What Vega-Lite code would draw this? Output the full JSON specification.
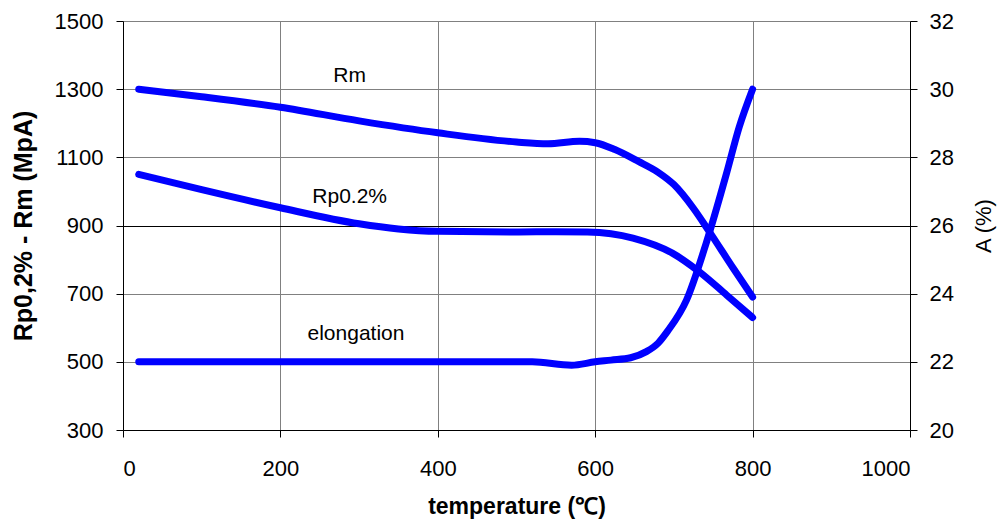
{
  "$schema": "https://vega.github.io/schema/vega-lite/v6.json",
  "width": 787,
  "height": 409,
  "autosize": {"type": "none"},
  "padding": {"left": 123, "top": 21, "right": 88, "bottom": 95},
  "background": "white",
  "config": {
    "view": {"stroke": null},
    "font": "Liberation Sans",
    "axis": {
      "labelFont": "Liberation Sans",
      "titleFont": "Liberation Sans",
      "labelFontSize": 22,
      "titleFontSize": 22,
      "labelColor": "black",
      "titleColor": "black",
      "domainColor": "black",
      "tickColor": "black",
      "tickSize": 7,
      "gridColor": "#808080",
      "gridOpacity": 1,
      "gridWidth": 1,
      "format": "d"
    }
  },
  "datasets": {
    "curves": [
      {"T": 20, "series": "Rm", "v": 1300},
      {"T": 100, "series": "Rm", "v": 1278},
      {"T": 200, "series": "Rm", "v": 1247},
      {"T": 300, "series": "Rm", "v": 1207},
      {"T": 400, "series": "Rm", "v": 1172},
      {"T": 500, "series": "Rm", "v": 1145},
      {"T": 540, "series": "Rm", "v": 1140},
      {"T": 580, "series": "Rm", "v": 1147},
      {"T": 600, "series": "Rm", "v": 1143},
      {"T": 625, "series": "Rm", "v": 1123},
      {"T": 655, "series": "Rm", "v": 1088},
      {"T": 680, "series": "Rm", "v": 1056},
      {"T": 700, "series": "Rm", "v": 1020},
      {"T": 725, "series": "Rm", "v": 950},
      {"T": 745, "series": "Rm", "v": 882},
      {"T": 775, "series": "Rm", "v": 776},
      {"T": 800, "series": "Rm", "v": 690},
      {"T": 20, "series": "Rp0.2%", "v": 1050},
      {"T": 100, "series": "Rp0.2%", "v": 1005},
      {"T": 200, "series": "Rp0.2%", "v": 952},
      {"T": 300, "series": "Rp0.2%", "v": 905},
      {"T": 350, "series": "Rp0.2%", "v": 890},
      {"T": 400, "series": "Rp0.2%", "v": 883},
      {"T": 500, "series": "Rp0.2%", "v": 881},
      {"T": 550, "series": "Rp0.2%", "v": 882},
      {"T": 590, "series": "Rp0.2%", "v": 881},
      {"T": 648, "series": "Rp0.2%", "v": 863},
      {"T": 698, "series": "Rp0.2%", "v": 819},
      {"T": 733, "series": "Rp0.2%", "v": 763},
      {"T": 767, "series": "Rp0.2%", "v": 696},
      {"T": 800, "series": "Rp0.2%", "v": 630}
    ],
    "elong": [
      {"T": 20, "A": 22},
      {"T": 200, "A": 22},
      {"T": 400, "A": 22},
      {"T": 520, "A": 22},
      {"T": 570, "A": 21.9},
      {"T": 600, "A": 22.0},
      {"T": 620, "A": 22.05},
      {"T": 645, "A": 22.12},
      {"T": 665, "A": 22.3},
      {"T": 680, "A": 22.55},
      {"T": 692, "A": 22.9},
      {"T": 716, "A": 23.81},
      {"T": 741, "A": 25.48},
      {"T": 767, "A": 27.54},
      {"T": 783, "A": 28.89},
      {"T": 800, "A": 30}
    ],
    "labels": [
      {"T": 288, "v": 1338, "text": "Rm"},
      {"T": 288, "v": 983, "text": "Rp0.2%"},
      {"T": 296, "v": 581, "text": "elongation"}
    ]
  },
  "layer": [
    {
      "layer": [
        {
          "data": {"name": "curves"},
          "mark": {"type": "line", "color": "#0000FF", "strokeWidth": 7, "strokeCap": "round", "strokeJoin": "round", "interpolate": "monotone"},
          "encoding": {
            "x": {"field": "T", "type": "quantitative", "scale": {"domain": [0, 1000], "nice": false},
              "axis": {"values": [0, 200, 400, 600, 800, 1000], "title": "temperature (℃)", "titleFontWeight": "bold", "titleFontSize": 23, "labelPadding": 21, "titlePadding": 16, "grid": true}},
            "y": {"field": "v", "type": "quantitative", "scale": {"domain": [300, 1500], "nice": false, "zero": false},
              "axis": {"values": [300, 500, 700, 900, 1100, 1300, 1500], "title": "Rp0,2% - Rm (MpA)", "titleFontWeight": "bold", "titleFontSize": 25, "labelPadding": 13, "titlePadding": 18, "grid": true,
                "gridColor": {"condition": {"test": "datum.value === 900", "value": "black"}, "value": "#808080"}}},
            "detail": {"field": "series"}
          }
        },
        {
          "data": {"name": "labels"},
          "mark": {"type": "text", "fontSize": 21, "font": "Liberation Sans", "color": "black", "align": "center", "baseline": "middle"},
          "encoding": {
            "x": {"field": "T", "type": "quantitative"},
            "y": {"field": "v", "type": "quantitative"},
            "text": {"field": "text"}
          }
        }
      ]
    },
    {
      "data": {"name": "elong"},
      "mark": {"type": "line", "color": "#0000FF", "strokeWidth": 7, "strokeCap": "round", "strokeJoin": "round", "interpolate": "monotone"},
      "encoding": {
        "x": {"field": "T", "type": "quantitative"},
        "y": {"field": "A", "type": "quantitative", "scale": {"domain": [20, 32], "nice": false, "zero": false},
          "axis": {"orient": "right", "values": [20, 22, 24, 26, 28, 30, 32], "title": "A (%)", "titleFontWeight": "normal", "titleAngle": 270, "titleBaseline": "top", "labelPadding": 12, "titlePadding": 20, "grid": false}}
      }
    }
  ],
  "resolve": {"scale": {"y": "independent"}}
}
